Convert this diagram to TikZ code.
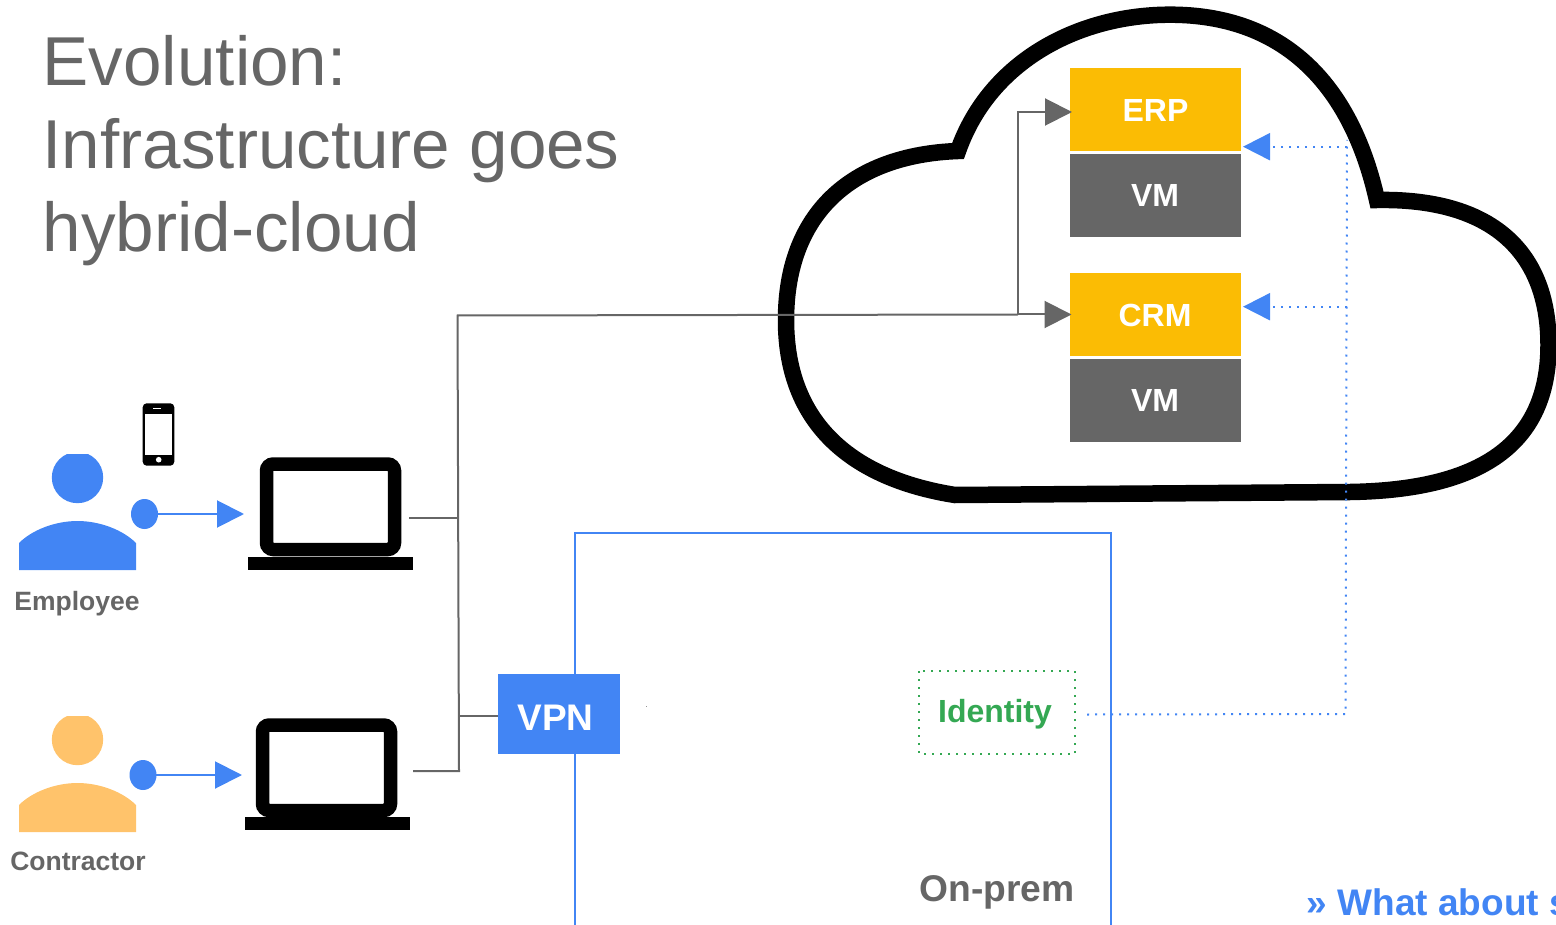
\documentclass[tikz,border=0pt]{standalone}
\usepackage{fontspec}
\setmainfont{Liberation Sans}
\usepackage{xcolor}
\usetikzlibrary{arrows.meta,positioning}
\definecolor{gblue}{HTML}{4285F4}
\definecolor{gyellow}{HTML}{FBBC04}
\definecolor{gorange}{HTML}{FFC36B}
\definecolor{ggreen}{HTML}{34A853}
\definecolor{ggray}{HTML}{666666}
\tikzset{
  appbox/.style={rectangle, inner sep=0pt, outer sep=0pt, minimum width=171pt, minimum height=83pt,
    text=white, font=\bfseries\fontsize{32}{32}\selectfont},
  app/.style={appbox, fill=gyellow},
  vm/.style={appbox, fill=ggray},
  laptop/.style={rectangle, draw=black, fill=white, line width=13.5pt, rounded corners=6.75pt,
    inner sep=0pt, outer sep=0pt, minimum width=128pt, minimum height=85.5pt},
  laptopbase/.style={rectangle, fill=black, inner sep=0pt, outer sep=0pt, minimum width=165pt, minimum height=13pt},
  wire/.style={ggray, line width=2pt},
  wirehead/.style={wire, -{Triangle[length=27pt,width=27pt]}},
  bluehead/.style={gblue, line width=2pt, -{Triangle[length=27pt,width=27pt]}},
  dotline/.style={gblue, line width=2pt, dash pattern=on 2pt off 6pt},
  dothead/.style={dotline, -{Triangle[length=27pt,width=27pt]}},
  person/.style={font=\bfseries\fontsize{26.5}{27}\selectfont, text=ggray, inner sep=0pt}
}

\begin{document}
\begin{tikzpicture}[x=1pt, y=-1pt]

\path[use as bounding box, clip] (0,0) rectangle (1556,925);

% TITLE
  \node[anchor=north west, align=left, inner sep=0pt, text=ggray, font=\fontsize{69.2}{83}\selectfont] (title) at (42.5,35)
    {Evolution:\\Infrastructure goes\\hybrid-cloud};

% CLOUD
  \draw[black, line width=16.5pt, line join=miter] (958,151)
    .. controls (990,60) and (1080,14.7) .. (1170,14.7)
    .. controls (1280,14.7) and (1350,80) .. (1377,200)
    .. controls (1490,198) and (1548.5,250) .. (1548.5,345)
    .. controls (1548.5,445) and (1480,490) .. (1350,492)
    -- (955,495)
    .. controls (860,480) and (786,430) .. (786,320)
    .. controls (786,215) and (850,155) .. (958,151) -- cycle;

% Application boxes
  \node[app] (erp) at (1155.5,110) {ERP};
  \node[vm]  (vmA) at (1155,195.5) {VM};
  \node[app] (crm) at (1155,315) {CRM};
  \node[vm]  (vmB) at (1155,400.5) {VM};

% On-prem region
  \draw[gblue, line width=2pt] (574.5,925.5) -- (574.5,533) -- (1111,533) -- (1111,925.5) -- cycle;
  \node[fill=gblue, inner sep=0pt, minimum width=122pt, minimum height=80pt] (vpn) at (559,714) {};
  \node[text=white, inner sep=0pt, font=\bfseries\fontsize{37}{37}\selectfont] (vpntext) at (555.5,717.5) {VPN};
  \fill[ggray!70] (645.5,705.5) rectangle (647,707);
  \draw[ggreen, line width=2pt, dash pattern=on 2pt off 6pt] (919,671) rectangle (1075,754);
  \node[text=ggreen, inner sep=0pt, font=\bfseries\fontsize{32}{32}\selectfont] (identity) at (995,714) {Identity};
  \node[text=ggray, inner sep=0pt, font=\bfseries\fontsize{37.2}{37}\selectfont] (onprem) at (997,892) {On-prem};
  \node[anchor=base west, text=gblue, inner sep=0pt, font=\bfseries\fontsize{37}{37}\selectfont] (whatabout) at (1306.5,915) {» What about s};

% Employee
  \begin{scope}
    \clip (40,454) rectangle (115,510);
    \fill[gblue] (77.5,477.5) circle (25.7);
  \end{scope}
  \fill[gblue] (19,570) -- (19,543) .. controls (32,530) and (55,521) .. (77.5,521)
    .. controls (100,521) and (123,530) .. (136,543) -- (136,570) -- cycle;
  \node[person] (employee) at (77,604) {Employee};
  \fill[gblue] (144.5,514) ellipse (13.5 and 15);
  \coordinate (dotA) at (158,514);

% Contractor
  \begin{scope}
    \clip (40,716) rectangle (115,772);
    \fill[gorange] (77.5,739.5) circle (25.7);
  \end{scope}
  \fill[gorange] (19,832) -- (19,805) .. controls (32,792) and (55,783) .. (77.5,783)
    .. controls (100,783) and (123,792) .. (136,805) -- (136,832) -- cycle;
  \node[person] (contractor) at (78,861) {Contractor};
  \fill[gblue] (143,775) ellipse (13.5 and 15);
  \coordinate (dotB) at (156,775);

% Phone
  \fill[black, rounded corners=4pt] (142.7,403.3) rectangle (174.3,465.7);
  \fill[white] (145,414) rectangle (172.3,454.7);
  \fill[white] (158.7,459.7) circle (2.8);
  \fill[white] (153,408) rectangle (161,409.3);

% Laptops
  \node[laptop] (laptopA) at (330.5,506.75) {};
  \node[laptopbase] (baseA) at (330.5,563.5) {};
  \node[laptop] (laptopB) at (326.5,767.75) {};
  \node[laptopbase] (baseB) at (327,823.5) {};

% Hand-over arrows
  \draw[bluehead] (dotA) -- (244,514);
  \draw[bluehead] (dotB) -- (242,775);

% Wires
  \coordinate (busTop) at (457.5,315.5);
  \coordinate (busBot) at (459,771);
  \coordinate (branch) at (1018,314.5);
  \coordinate (vpnIn) at (498,716);
  \draw[wire] (409,518) -- (458,518);
  \draw[wire] (413,771) -- (busBot) -- (busTop) -- (branch);
  \draw[wire] (459,716) -- (vpnIn);
  \draw[wirehead] (branch) -- (1071.5,314.5);
  \draw[wirehead] (branch) -- (1018,112) -- (1072,112);

% Identity links
  \coordinate (dotCorner) at (1345.5,714);
  \coordinate (dotTop) at (1347,140);
  \draw[dotline] (1087,714.5) -- (dotCorner) -- (dotTop);
  \draw[dothead] (1347,146.7) -- (1243,146.7);
  \draw[dothead] (1346.5,306.7) -- (1243,306.7);

\end{tikzpicture}
\end{document}
